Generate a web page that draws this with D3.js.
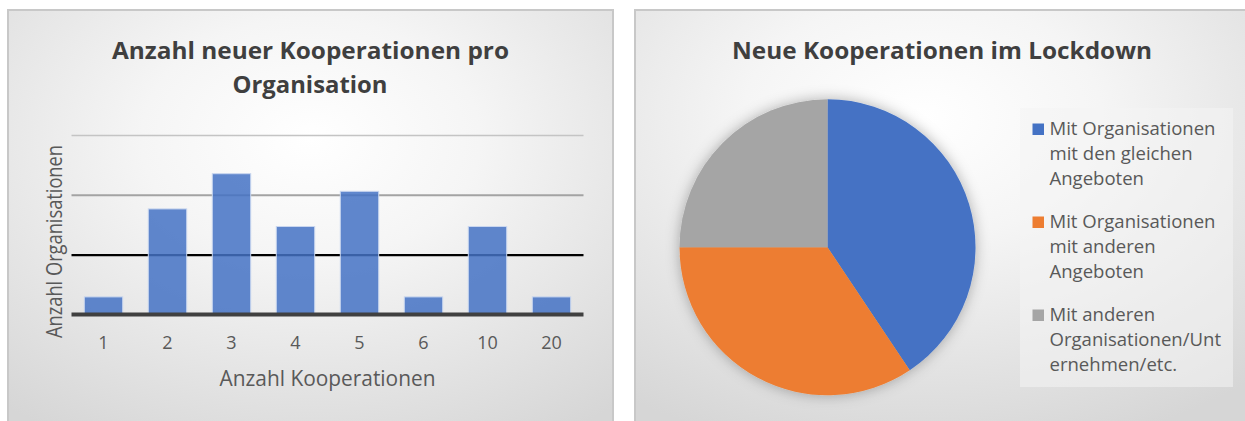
<!DOCTYPE html>
<html>
<head>
<meta charset="utf-8">
<script src="https://cdn.jsdelivr.net/npm/d3@7"></script>
<style>
  html, body { margin: 0; padding: 0; background: #fff; }
  svg { display: block; font-family: "Open Sans", "Noto Sans", sans-serif; }
</style>
</head>
<body>
<svg id="chart" width="1245" height="421"></svg>
<script>
// bar chart data
const categories = ['1', '2', '3', '4', '5', '6', '10', '20'];
const orgCounts = [1, 6, 8, 5, 7, 1, 5, 1];
const gridTicks = [3.4, 6.8, 10.2];   // no labels on the y axis, just gridlines

// pie data
const pieLabels = [
  ['Mit Organisationen', 'mit den gleichen', 'Angeboten'],
  ['Mit Organisationen', 'mit anderen', 'Angeboten'],
  ['Mit anderen', 'Organisationen/Unt', 'ernehmen/etc.']
];
const pieValues = [13, 11, 8];

const barTitle = ['Anzahl neuer Kooperationen pro', 'Organisation'];
const pieTitle = 'Neue Kooperationen im Lockdown';

const svg = d3.select('#chart');
const defs = svg.append('defs');

// panel backgrounds (radial grey gradient like excel)
function addGradient(id, cx, cy) {
  let g = defs.append('radialGradient')
    .attr('id', id)
    .attr('cx', cx).attr('cy', cy).attr('r', '0.8');
  g.append('stop').attr('offset', '0').attr('stop-color', '#ffffff');
  g.append('stop').attr('offset', '0.35').attr('stop-color', '#f5f5f5');
  g.append('stop').attr('offset', '1').attr('stop-color', '#d6d6d6');
}
addGradient('bgLeft', '0.5', '0.3');
addGradient('bgRight', '0.45', '0.25');

let shadow = defs.append('filter').attr('id', 'pieShadow')
  .attr('x', '-20%').attr('y', '-20%').attr('width', '140%').attr('height', '140%');
shadow.append('feDropShadow')
  .attr('dx', 0).attr('dy', 0)
  .attr('stdDeviation', 7)
  .attr('flood-color', '#000')
  .attr('flood-opacity', 0.3);

svg.append('rect')
  .attr('x', 8).attr('y', 10).attr('width', 605).attr('height', 430)
  .attr('fill', 'url(#bgLeft)')
  .attr('stroke', '#c8c8c8').attr('stroke-width', 2);

svg.append('rect')
  .attr('x', 635).attr('y', 10).attr('width', 640).attr('height', 430)
  .attr('fill', 'url(#bgRight)')
  .attr('stroke', '#c8c8c8').attr('stroke-width', 2);

// squeeze text to a given width (the source font is narrower)
function fit(sel, w) {
  sel.attr('textLength', w).attr('lengthAdjust', 'spacingAndGlyphs');
  return sel;
}

// ---------- bar chart ----------
let x = d3.scaleBand()
  .domain(categories)
  .range([71.5, 583.5])
  .paddingInner(0.4)
  .paddingOuter(0.2);

let y = d3.scaleLinear()
  .domain([0, 10.2])
  .range([314.5, 135]);

let bars = svg.append('g');

// gridlines, each one drawn a bit different in the picture
let gridStyle = [
  { stroke: '#000000', width: 2.2 },
  { stroke: '#a3a3a3', width: 2 },
  { stroke: '#c4c4c4', width: 1.3 }
];

let grid = bars.append('g')
  .attr('transform', 'translate(71.5,0)')
  .call(d3.axisLeft(y).tickValues(gridTicks).tickSize(-512).tickFormat(''));
grid.select('.domain').remove();
grid.selectAll('.tick line')
  .attr('stroke', function(d, i) { return gridStyle[i].stroke })
  .attr('stroke-width', function(d, i) { return gridStyle[i].width });

bars.selectAll('.bar')
  .data(orgCounts)
  .enter()
  .append('rect')
  .attr('class', 'bar')
  .attr('x', function(d, i) { return x(categories[i]) })
  .attr('y', function(d) { return y(d) })
  .attr('width', x.bandwidth())
  .attr('height', function(d) { return y(0) - y(d) })
  .attr('fill', '#4472c4')
  .attr('fill-opacity', 0.85)
  .attr('stroke', '#c9d6ef')
  .attr('stroke-width', 1);

// base line
bars.append('line')
  .attr('x1', 71.5).attr('x2', 583.5)
  .attr('y1', y(0)).attr('y2', y(0))
  .attr('stroke', '#404040')
  .attr('stroke-width', 4);

let xAxis = bars.append('g')
  .attr('transform', 'translate(0,' + y(0) + ')')
  .call(d3.axisBottom(x).tickSize(0).tickPadding(0));
xAxis.select('.domain').remove();
xAxis.selectAll('text')
  .attr('dy', null)
  .attr('y', 34.5)
  .style('font-family', '"Open Sans", sans-serif')
  .style('font-size', '18px')
  .attr('fill', '#595959');

fit(bars.append('text')
  .attr('x', 327.5).attr('y', 386)
  .attr('text-anchor', 'middle')
  .style('font-size', '21px')
  .attr('fill', '#595959')
  .text('Anzahl Kooperationen'), 216);

fit(bars.append('text')
  .attr('transform', 'translate(62,241.5) rotate(-90)')
  .attr('text-anchor', 'middle')
  .style('font-size', '21px')
  .attr('fill', '#595959')
  .text('Anzahl Organisationen'), 193);

// title
fit(svg.append('text')
  .attr('x', 310.5).attr('y', 58.5)
  .attr('text-anchor', 'middle')
  .style('font-size', '23.5px').style('font-weight', 'bold')
  .attr('fill', '#3f3f3f')
  .text(barTitle[0]), 397);
fit(svg.append('text')
  .attr('x', 310).attr('y', 92.5)
  .attr('text-anchor', 'middle')
  .style('font-size', '23.5px').style('font-weight', 'bold')
  .attr('fill', '#3f3f3f')
  .text(barTitle[1]), 155);

// ---------- pie chart ----------
let pieColors = d3.scaleOrdinal()
  .domain([0, 1, 2])
  .range(['#4472c4', '#ed7d31', '#a5a5a5']);

let pieDataGen = d3.pie().sort(null).value(function(d) { return d });
let arcGen = d3.arc().innerRadius(0).outerRadius(148);

let pie = svg.append('g')
  .attr('transform', 'translate(827.5,247.3)');

pie.append('g')
  .attr('filter', 'url(#pieShadow)')
  .selectAll('.slice')
  .data(pieDataGen(pieValues))
  .enter()
  .append('path')
  .attr('class', 'slice')
  .attr('d', arcGen)
  .attr('fill', function(d, i) { return pieColors(i) });

fit(svg.append('text')
  .attr('x', 942).attr('y', 58.5)
  .attr('text-anchor', 'middle')
  .style('font-size', '23.5px').style('font-weight', 'bold')
  .attr('fill', '#3f3f3f')
  .text(pieTitle), 420);

// legend
let legend = svg.append('g');
legend.append('rect')
  .attr('x', 1020).attr('y', 108)
  .attr('width', 213).attr('height', 279)
  .attr('fill', '#f4f4f4')
  .attr('fill-opacity', 0.55);

// horizontal squeeze measured on the first line
let probe = legend.append('text').style('font-size', '18px').text(pieLabels[0][0]);
let k = 166 / probe.node().getComputedTextLength();
probe.remove();

pieLabels.forEach(function(lines, i) {
  let base = 135 + 93 * i;
  legend.append('rect')
    .attr('x', 1032.5).attr('y', base - 11.5)
    .attr('width', 11.5).attr('height', 11.5)
    .attr('fill', pieColors(i));
  lines.forEach(function(line, j) {
    let t = legend.append('text')
      .attr('x', 1049.5).attr('y', base + 25 * j)
      .style('font-size', '18px')
      .attr('fill', '#595959')
      .text(line);
    fit(t, t.node().getComputedTextLength() * k);
  });
});
</script>
</body>
</html>
